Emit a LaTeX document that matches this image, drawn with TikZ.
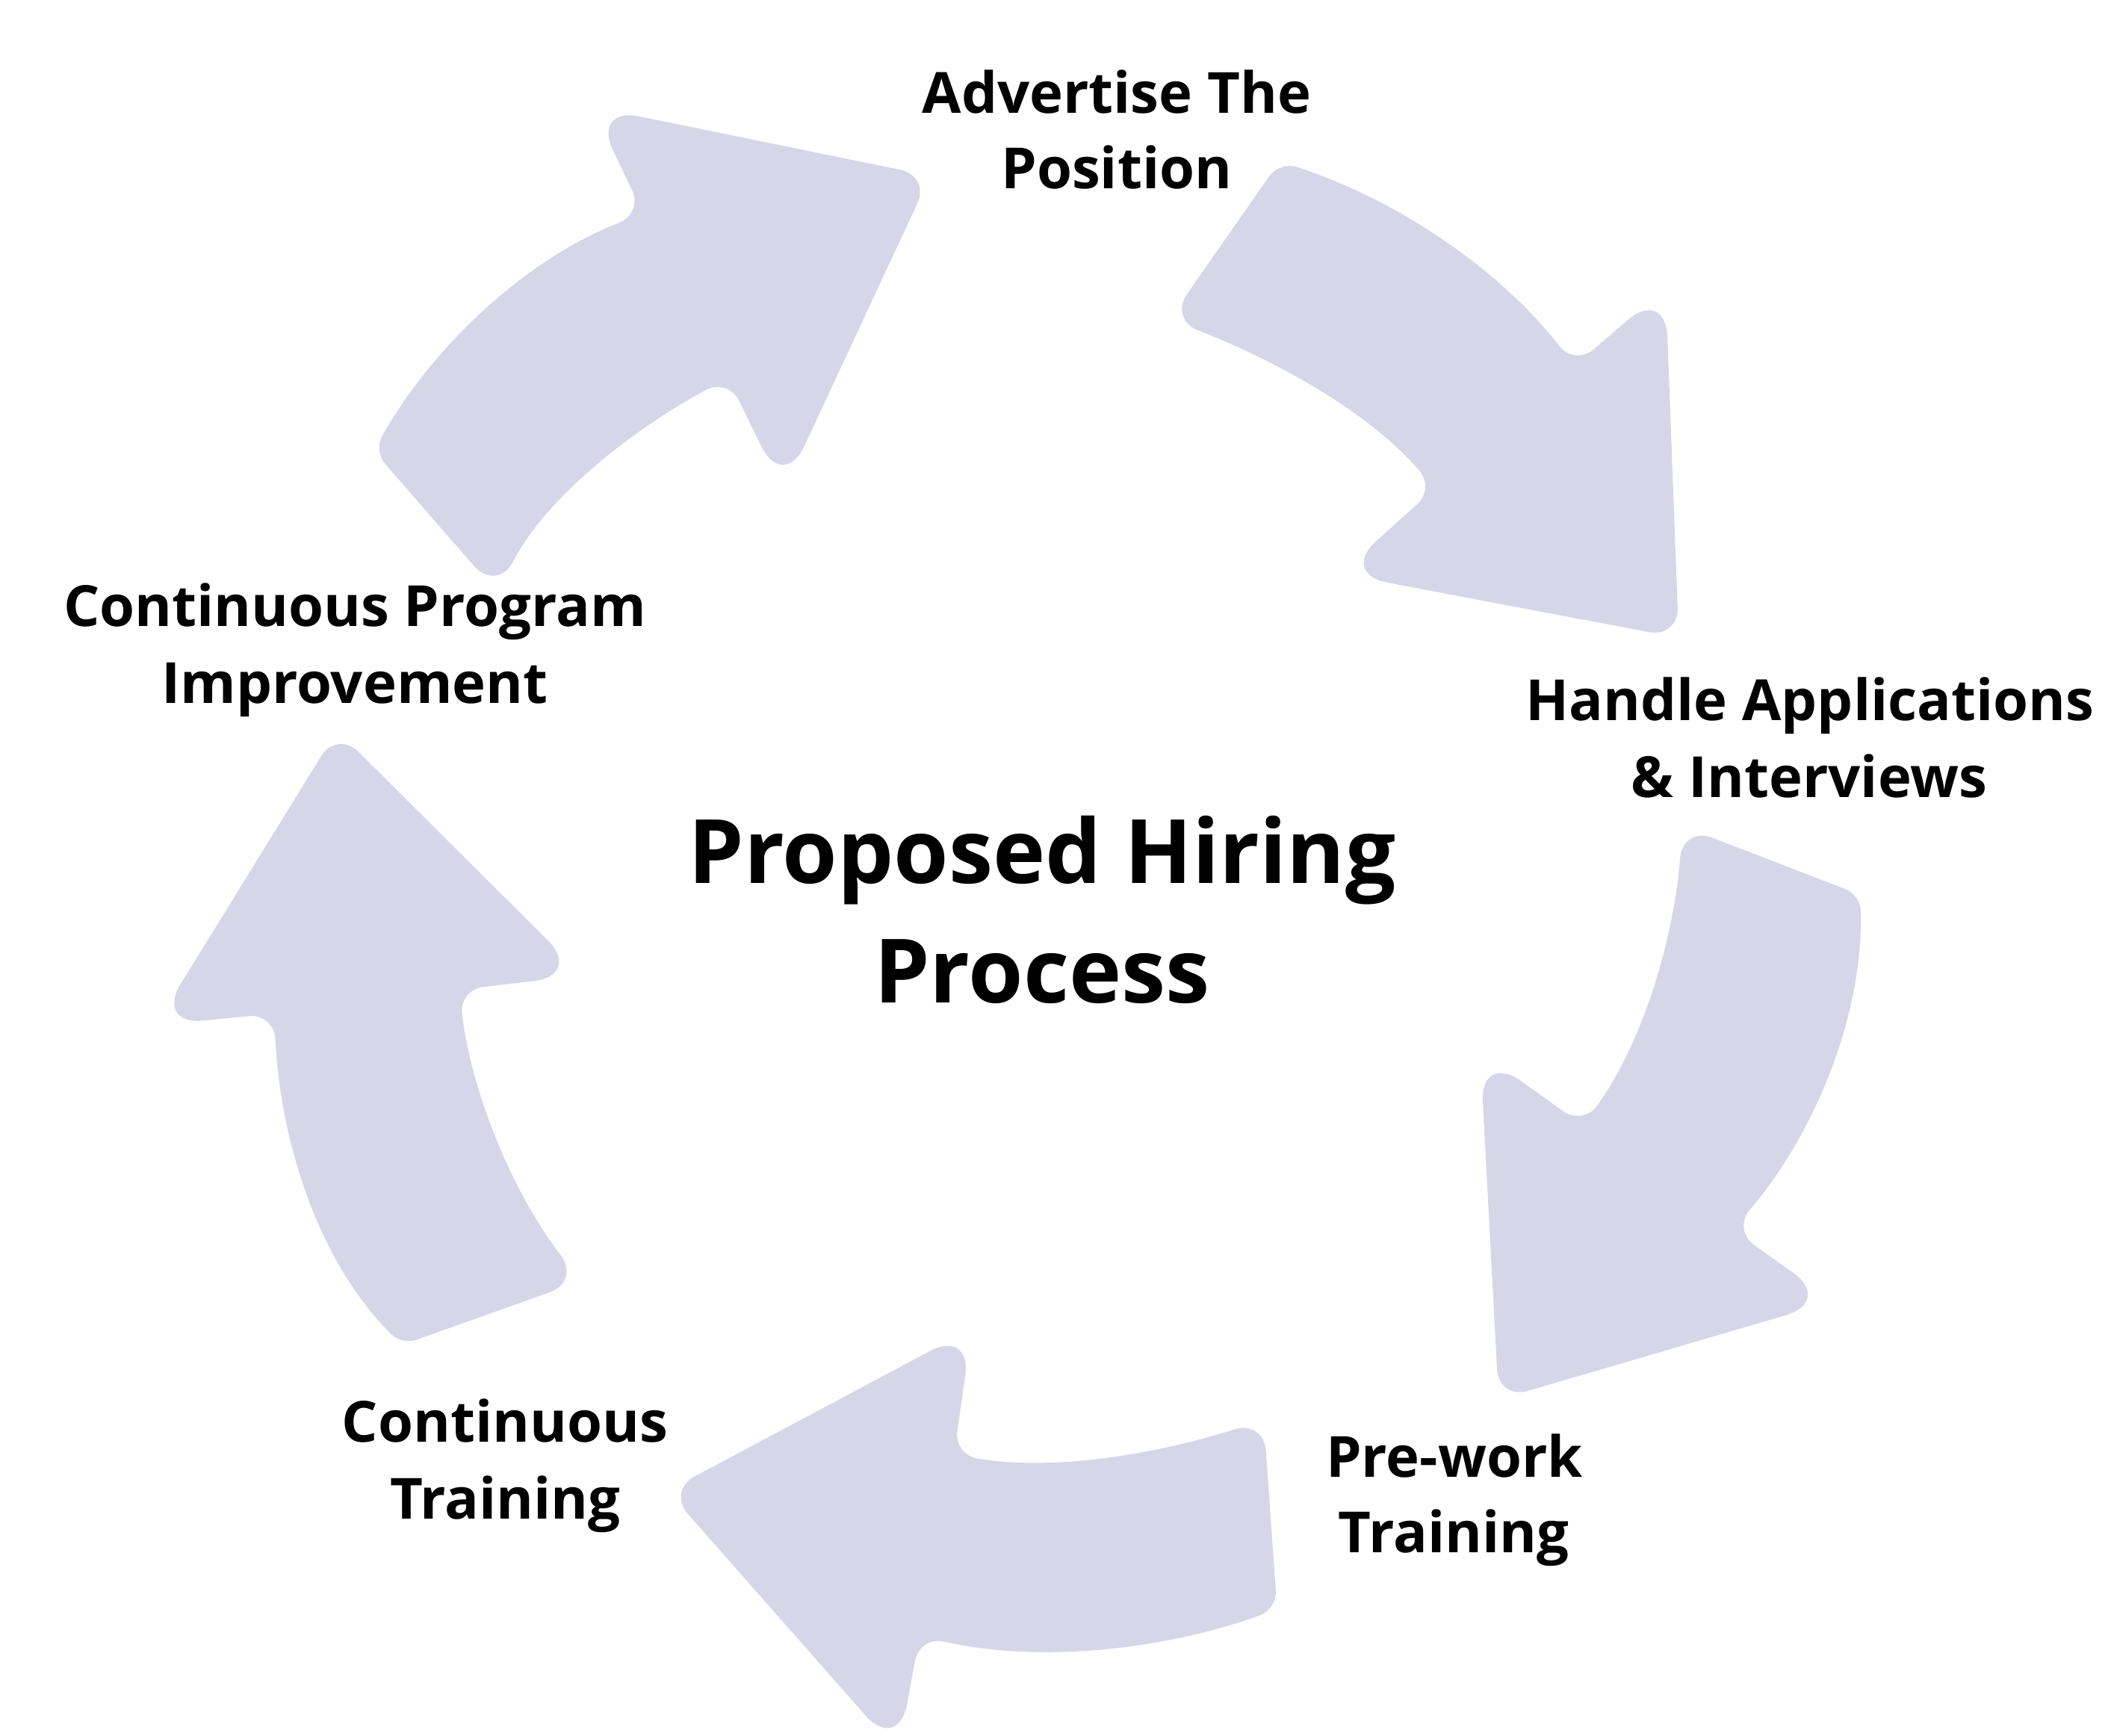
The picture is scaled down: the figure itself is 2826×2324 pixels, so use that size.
\documentclass[tikz,border=0pt]{standalone}
\usepackage{fontspec}
\setmainfont{Open Sans}
\definecolor{arrowfill}{RGB}{215,214,232}
\begin{document}
\begin{tikzpicture}[x=0.01cm,y=-0.01cm,
  arrowshape/.style={fill=arrowfill},
  lbl/.style={anchor=base,inner sep=0pt,font=\fontsize{21.6}{29}\selectfont\bfseries},
  ttl/.style={anchor=base,inner sep=0pt,font=\fontsize{33.8}{46}\selectfont\bfseries}]
\fill[white] (0,0) rectangle (2826,2324);
\useasboundingbox (0,0) rectangle (2826,2324);
% arrow 1
\coordinate (a1M) at (583,698.4);
\coordinate (a1A) at (500.5,603.7);
\coordinate (a1B) at (665.5,793.1);
\coordinate (a1C) at (974.5,506.2);
\coordinate (a1D) at (1048.6,657.6);
\coordinate (a1E) at (1245.2,235.5);
\coordinate (a1F) at (792.7,142.9);
\coordinate (a1G) at (861.1,285.7);
\fill[arrowshape] (a1M) [rounded corners=0.47cm] -- (a1B) [rounded corners=0.333cm] .. controls (732.5,663.7) and (849.9,573.3) .. (a1C) [rounded corners=0.67cm] -- (a1D) [rounded corners=0.405cm] -- (a1E) [rounded corners=0.64cm] -- (a1F) [rounded corners=0.346cm] -- (a1G) [rounded corners=0.225cm] .. controls (707.4,345.2) and (580.3,461.1) .. (a1A) -- cycle;
% arrow 2
\coordinate (a2M) at (1639.3,321.7);
\coordinate (a2T1) at (1713,216.2);
\coordinate (a2T2) at (1565.6,427.2);
\coordinate (a2N1) at (2107.8,489.8);
\coordinate (a2P1) at (2229.7,384.9);
\coordinate (a2P2) at (2247.3,853.7);
\coordinate (a2P3) at (1794,767.9);
\coordinate (a2N2) at (1920.8,653.9);
\fill[arrowshape] (a2M) [rounded corners=0.236cm] -- (a2T1) [rounded corners=0.338cm] .. controls (1868.4,266.1) and (2008.2,360.5) .. (a2N1) [rounded corners=0.664cm] -- (a2P1) [rounded corners=0.401cm] -- (a2P2) [rounded corners=0.642cm] -- (a2P3) [rounded corners=0.314cm] -- (a2N2) [rounded corners=0.406cm] .. controls (1827,545.5) and (1698.3,479.2) .. (a2T2) -- cycle;
% arrow 3
\coordinate (a3M) at (2371.35,1152);
\coordinate (a3Q1) at (2252.2,1106);
\coordinate (a3Q2) at (2490.5,1198);
\coordinate (a3R1) at (2319.5,1646.2);
\coordinate (a3R2) at (2454,1742.1);
\coordinate (a3R3) at (2006.2,1873.5);
\coordinate (a3R4) at (1981.5,1408.4);
\coordinate (a3R5) at (2119.1,1506.4);
\fill[arrowshape] (a3M) [rounded corners=0.213cm] -- (a3Q2) [rounded corners=0.35cm] .. controls (2494.7,1362.9) and (2426,1522.2) .. (a3R1) [rounded corners=0.657cm] -- (a3R2) [rounded corners=0.405cm] -- (a3R3) [rounded corners=0.663cm] -- (a3R4) [rounded corners=0.318cm] -- (a3R5) [rounded corners=0.432cm] .. controls (2203.2,1390) and (2241.9,1246.5) .. (a3Q1) -- cycle;
% arrow 4
\coordinate (a4M) at (1700.7,2027.6);
\coordinate (a4W1) at (893.7,1995.8);
\coordinate (a4W2) at (1301.1,1778.8);
\coordinate (a4W3) at (1277.1,1947.2);
\coordinate (a4W4) at (1691.8,1901.2);
\coordinate (a4W5) at (1709.6,2154);
\coordinate (a4W6) at (1231.1,2189.9);
\coordinate (a4W7) at (1202.3,2346);
\fill[arrowshape] (a4M) [rounded corners=0.241cm] -- (a4W5) [rounded corners=0.335cm] .. controls (1557.4,2209.5) and (1387.6,2226.5) .. (a4W6) [rounded corners=0.657cm] -- (a4W7) [rounded corners=0.405cm] -- (a4W1) [rounded corners=0.629cm] -- (a4W2) [rounded corners=0.312cm] -- (a4W3) [rounded corners=0.406cm] .. controls (1417,1970.9) and (1557.8,1943.5) .. (a4W4) -- cycle;
% arrow 5
\coordinate (a5M) at (657.8,1757.8);
\coordinate (a5U1) at (451.2,977.9);
\coordinate (a5U2) at (207.7,1372.7);
\coordinate (a5U3) at (367,1356.9);
\coordinate (a5U4) at (538.2,1800.4);
\coordinate (a5U5) at (777.4,1715.2);
\coordinate (a5U6) at (614.7,1325.1);
\coordinate (a5U7) at (780.2,1305.5);
\fill[arrowshape] (a5M) [rounded corners=0.44cm] -- (a5U5) [rounded corners=0.32cm] .. controls (689.7,1601.5) and (631.6,1467.6) .. (a5U6) [rounded corners=0.66cm] -- (a5U7) [rounded corners=0.403cm] -- (a5U1) [rounded corners=0.644cm] -- (a5U2) [rounded corners=0.337cm] -- (a5U3) [rounded corners=0.201cm] .. controls (374.6,1517.8) and (421,1683.9) .. (a5U4) -- cycle;
% labels
\node[lbl] (adv1) at (1494.8,151) {Advertise The};
\node[lbl] (adv2) at (1494.8,252) {Position};
\node[lbl] (han1) at (2423,964) {Handle Applications};
\node[lbl] (han2) at (2422,1067) {\& Interviews};
\node[lbl] (pre1) at (1947,1977) {Pre-work};
\node[lbl] (pre2) at (1946,2078) {Training};
\node[lbl] (con1) at (676,1930) {Continuous};
\node[lbl] (con2) at (676.6,2033) {Training};
\node[lbl] (cpi1) at (475,838) {Continuous Program};
\node[lbl] (cpi2) at (475,941) {Improvement};
\node[ttl] (title1) at (1395,1182) {Proposed Hiring};
\node[ttl] (title2) at (1395,1342.5) {Process};
\end{tikzpicture}
\end{document}
